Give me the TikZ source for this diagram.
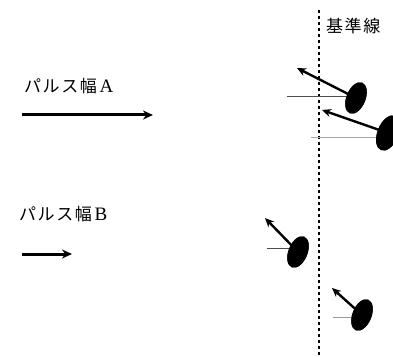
\documentclass[tikz,border=0pt]{standalone}
\usepackage{fontspec}
\newfontfamily\jp[LetterSpace=9]{Noto Sans CJK JP}
\newfontfamily\lat{Liberation Serif}
\usetikzlibrary{shapes.geometric,arrows.meta}
\newcommand\latbig[1]{{\lat\fontsize{19}{19}\selectfont #1}}
\begin{document}
\begin{tikzpicture}[x=1pt,y=-1pt,
  blob/.style={ellipse,fill=black,inner sep=0pt,minimum width=33pt,minimum height=19pt,rotate=68},
  push/.style={line width=2.4pt,-{Stealth[length=9pt,width=8pt]}},
  ref/.style={line width=0.9pt,draw=#1},
  lbl/.style={anchor=west,inner sep=0pt,font=\jp\fontsize{17}{17}\selectfont}]
\useasboundingbox (0,0) rectangle (393,358);
% reference line
\coordinate (lt) at (319,10);
\coordinate (lb) at (319,358);
\draw[line width=2pt,dash pattern=on 3pt off 3pt] (lt) -- (lb);
\node[lbl] (kj) at (326,26) {基準線};
% pulse width labels
\node[lbl] (pa) at (24,86) {パルス幅\,\latbig{A}};
\coordinate (a0) at (22,115);
\coordinate (a1) at (153,115);
\draw[line width=3pt,-{Stealth[length=10pt,width=9pt]}] (a0) -- (a1);
\node[lbl] (pb) at (19,214) {パルス幅\,\latbig{B}};
\coordinate (b0) at (22,254);
\coordinate (b1) at (72,254);
\draw[line width=3pt,-{Stealth[length=10pt,width=9pt]}] (b0) -- (b1);
% ellipses
\node[blob] (e1) at (356,98) {};
\node[blob,minimum width=37pt,minimum height=21pt] (e2) at (388,133) {};
\node[blob] (e3) at (298,252) {};
\node[blob] (e4) at (362,315) {};
% horizontal base lines
\coordinate (h1) at (287,96);
\coordinate (h2) at (311,137);
\coordinate (h3) at (267,248);
\coordinate (h4) at (333,317);
\draw[ref=black!70] (h1) -- (h1 -| e1.center);
\draw[ref=black!35] (h2) -- (h2 -| e2.center);
\draw[ref=black!70] (h3) -- (h3 -| e3.center);
\draw[ref=black!40] (h4) -- (h4 -| e4.center);
\node[blob] at (e1) {};
\node[blob,minimum width=37pt,minimum height=21pt] at (e2) {};
\node[blob] at (e3) {};
\node[blob] at (e4) {};
% push arrows
\coordinate (t1) at (297,68);
\coordinate (t2) at (322,110);
\coordinate (t3) at (265,218);
\coordinate (t4) at (332,288);
\draw[push] (e1.center) -- (t1);
\draw[push] (e2.center) -- (t2);
\draw[push] (e3.center) -- (t3);
\draw[push] (e4.center) -- (t4);
\end{tikzpicture}
\end{document}
